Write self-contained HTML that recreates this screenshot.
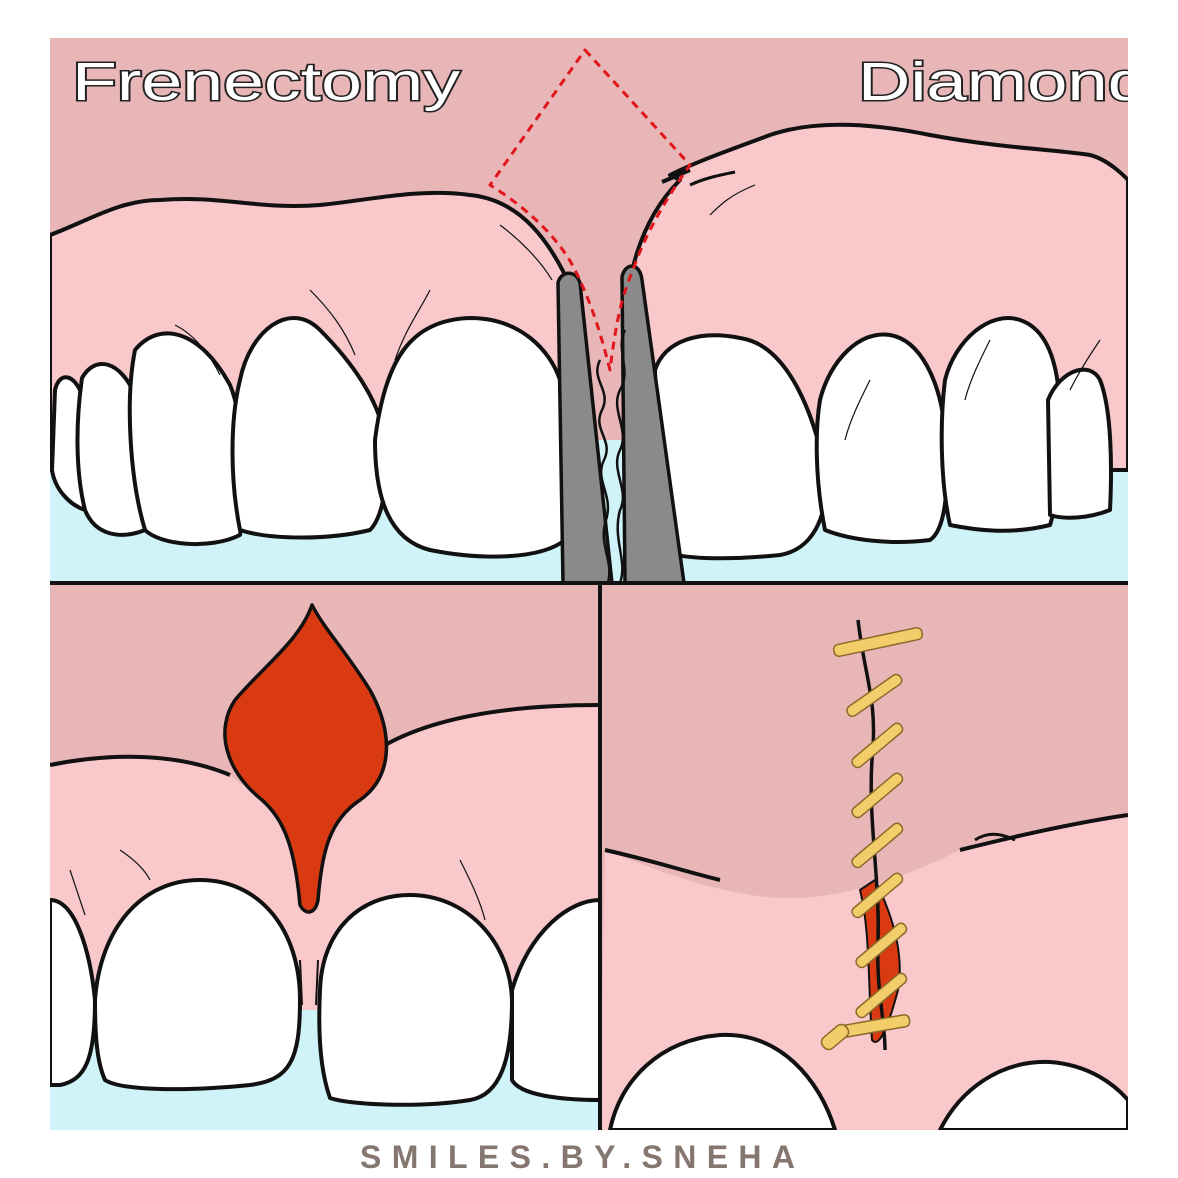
<!DOCTYPE html>
<html><head><meta charset="utf-8"><style>
html,body{margin:0;padding:0;background:#fff;}
svg{display:block}
</style></head><body>
<svg width="1178" height="1178" viewBox="0 0 1178 1178" xmlns="http://www.w3.org/2000/svg">
<defs>
<clipPath id="ct"><rect x="50" y="38" width="1078" height="545"/></clipPath>
<clipPath id="cl"><rect x="50" y="583" width="550" height="547"/></clipPath>
<clipPath id="cr"><rect x="600" y="583" width="528" height="547"/></clipPath>
</defs>
<rect width="1178" height="1178" fill="#fff"/>

<!-- TOP PANEL -->
<g clip-path="url(#ct)" stroke="#111" stroke-width="4" stroke-linejoin="round">
<rect x="50" y="38" width="1078" height="545" fill="#e9b6b8" stroke="none"/>
<rect x="50" y="440" width="1078" height="143" fill="#cff3f8" stroke="none"/>
<path d="M50,235 C90,220 120,200 160,200 C220,195 260,210 320,205 C370,200 420,188 470,195 C520,200 550,240 572,290 L575,470 L50,470 Z" fill="#f8c8cb"/>
<path d="M670,175 C700,160 730,150 770,135 C820,118 880,125 930,135 C1000,148 1060,150 1090,155 C1110,160 1128,180 1128,180 L1128,470 L640,470 L630,280 C640,230 660,200 680,180 Z" fill="#f8c8cb"/>
<path d="M662,182 L690,170" fill="none"/>
<path d="M690,185 C705,178 720,175 735,172" fill="none" stroke-width="3"/>
<!-- teeth -->
<g fill="#fff">
<path d="M55,390 C60,370 75,375 82,395 L85,510 C70,505 55,490 52,470 Z"/>
<path d="M82,378 C95,355 120,360 135,395 L145,530 C120,540 95,535 85,510 C75,470 76,420 82,378 Z"/>
<path d="M135,350 C160,320 200,330 230,385 C245,420 245,500 240,535 C210,550 160,545 145,530 C130,480 125,400 135,350 Z"/>
<path d="M240,380 C250,330 290,300 320,330 C350,360 380,400 385,440 C390,490 380,520 370,530 C330,540 270,540 240,530 C230,480 230,420 240,380 Z"/>
<path d="M375,440 C385,360 410,320 470,318 C520,318 550,350 560,380 L565,540 C540,560 480,560 430,550 C390,540 375,500 375,440 Z"/>
<path d="M655,370 C665,340 700,330 740,338 C790,345 815,420 825,470 C830,520 810,550 780,555 C730,560 680,560 660,550 Z"/>
<path d="M820,400 C830,360 860,330 890,335 C920,340 940,380 945,430 C950,490 945,530 930,540 C890,545 850,540 825,530 C815,480 815,430 820,400 Z"/>
<path d="M945,380 C955,340 990,310 1020,320 C1050,330 1060,370 1060,420 C1060,480 1055,510 1050,525 C1010,535 975,530 950,525 C940,480 940,420 945,380 Z"/>
<path d="M1048,400 C1060,370 1090,360 1100,380 C1112,410 1112,470 1110,510 C1090,518 1065,520 1050,515 Z"/>
</g>
<!-- hair lines -->
<g fill="none" stroke-width="1.2">
<path d="M175,325 C195,335 210,355 220,375"/><path d="M310,290 C330,310 345,330 355,355"/>
<path d="M430,290 C420,310 405,330 395,360"/><path d="M500,225 C520,240 540,260 552,280"/>
<path d="M990,340 C980,360 970,380 965,400"/><path d="M1100,340 C1090,355 1080,370 1070,390"/>
<path d="M870,380 C860,400 850,420 845,440"/><path d="M755,185 C730,195 720,205 710,215"/>
</g>
<!-- instrument -->
<path d="M558,283 C560,272 575,268 580,283 L612,583 L563,583 Z" fill="#8a8a8a" stroke-width="3.5"/>
<path d="M622,277 C625,262 640,262 642,280 L684,583 L625,583 Z" fill="#8a8a8a" stroke-width="3.5"/>
<path d="M600,360 C590,380 612,390 602,410 C592,430 614,440 604,460 C594,480 614,495 606,520 C598,545 614,560 608,583" fill="none" stroke-width="2.5"/>
<path d="M625,330 C615,350 632,370 620,390 C610,410 630,430 620,450 C610,470 630,490 620,510 C612,540 628,560 620,583" fill="none" stroke-width="2.5"/>
<!-- red dashed -->
<path d="M585,50 L690,165 C665,200 645,235 633,270 C620,300 615,330 610,370 C600,330 590,300 575,270 C560,240 530,210 490,185 Z" fill="none" stroke="#e0161a" stroke-width="3" stroke-dasharray="8,6"/>
</g>
<g font-family="Liberation Sans, sans-serif" font-size="54" fill="#fff" stroke="#222" stroke-width="3" paint-order="stroke" clip-path="url(#ct)">
<text x="72" y="100" textLength="388" lengthAdjust="spacingAndGlyphs">Frenectomy</text>
<text x="858" y="100" textLength="290" lengthAdjust="spacingAndGlyphs">Diamond</text>
</g>

<!-- BOTTOM LEFT -->
<g clip-path="url(#cl)" stroke="#111" stroke-width="4" stroke-linejoin="round">
<rect x="50" y="583" width="550" height="547" fill="#e9b6b8" stroke="none"/>
<rect x="50" y="1010" width="550" height="120" fill="#cff3f8" stroke="none"/>
<path d="M50,765 C100,755 170,750 230,775 L300,830 L385,745 C430,720 500,705 600,705 L600,1010 L50,1010 Z" fill="#f8c8cb" stroke="none"/>
<path d="M50,765 C100,755 170,750 230,775" fill="none"/>
<path d="M385,745 C430,720 500,705 600,705" fill="none"/>
<path d="M312,605 C300,640 265,665 235,700 C215,730 225,770 262,800 C285,820 295,850 300,905 C305,915 315,915 318,900 C322,850 330,820 360,800 C395,775 392,730 370,690 C345,650 325,630 312,605 Z" fill="#d93a12" stroke-width="3.5"/>
<g fill="#fff">
<path d="M50,900 C75,900 90,950 95,1000 C95,1060 85,1080 60,1085 L50,1085 Z"/>
<path d="M95,1000 C100,930 140,880 200,880 C260,880 300,930 300,1000 C300,1060 290,1080 250,1085 C180,1092 120,1090 105,1080 C96,1060 95,1030 95,1000 Z"/>
<path d="M320,990 C322,930 360,895 410,895 C465,895 510,940 512,1000 C512,1060 500,1095 470,1100 C420,1108 350,1105 330,1098 C320,1070 318,1030 320,990 Z"/>
<path d="M512,990 C530,930 570,900 600,900 L600,1100 C560,1100 520,1095 512,1080 Z"/>
</g>
<path d="M300,960 L302,1005 M318,960 L316,1005" fill="none" stroke-width="2"/>
<g fill="none" stroke-width="1.2"><path d="M120,850 C135,860 145,870 150,880"/><path d="M460,860 C470,880 480,900 485,920"/><path d="M70,870 C75,885 80,900 85,915"/></g>
</g>

<!-- BOTTOM RIGHT -->
<g clip-path="url(#cr)" stroke="#111" stroke-width="4" stroke-linejoin="round">
<rect x="600" y="583" width="528" height="547" fill="#e9b6b8" stroke="none"/>
<path d="M605,850 C680,880 740,900 800,898 C860,895 920,870 960,850 C1020,835 1080,822 1128,815 L1128,1130 L600,1130 Z" fill="#f8c8cb" stroke="none"/>
<path d="M605,850 C650,860 680,870 720,880" fill="none"/>
<path d="M960,850 C1020,835 1080,822 1128,815" fill="none"/>
<path d="M975,840 C990,830 1005,835 1015,840" fill="none" stroke-width="3"/>
<path d="M860,890 C870,930 868,980 872,1040 C880,1050 890,1020 898,990 C905,950 890,910 875,880 Z" fill="#d93a12" stroke-width="2"/>
<path d="M610,1130 C620,1080 660,1040 720,1035 C780,1032 820,1080 835,1130 Z" fill="#fff"/>
<path d="M940,1130 C960,1090 1000,1060 1050,1062 C1090,1065 1115,1085 1128,1100 L1128,1130 Z" fill="#fff"/>
<path d="M858,620 C865,680 878,700 872,760 C868,820 880,880 878,940 C876,990 885,1020 885,1050" fill="none" stroke-width="3.5"/>
<g stroke="#8a6a2a" stroke-width="1.5" fill="#f2cd6a">
<rect x="833" y="636" width="90" height="12" rx="5" transform="rotate(-12 878 642)"/>
<rect x="842" y="690" width="64" height="11" rx="5" transform="rotate(-35 874 695)"/>
<rect x="846" y="740" width="62" height="11" rx="5" transform="rotate(-40 877 745)"/>
<rect x="846" y="790" width="62" height="11" rx="5" transform="rotate(-40 877 795)"/>
<rect x="846" y="840" width="62" height="11" rx="5" transform="rotate(-40 877 845)"/>
<rect x="846" y="890" width="62" height="11" rx="5" transform="rotate(-40 877 895)"/>
<rect x="850" y="940" width="62" height="11" rx="5" transform="rotate(-40 881 945)"/>
<rect x="850" y="990" width="62" height="11" rx="5" transform="rotate(-40 881 995)"/>
<rect x="840" y="1020" width="70" height="12" rx="5" transform="rotate(-10 875 1026)"/>
<rect x="820" y="1030" width="30" height="14" rx="6" transform="rotate(-40 835 1037)"/>
</g>
</g>

<!-- dividers -->
<g stroke="#111" stroke-width="4">
<line x1="50" y1="583" x2="1128" y2="583"/>
<line x1="600" y1="583" x2="600" y2="1130"/>
</g>

<text x="360" y="1168" textLength="435" lengthAdjust="spacing" font-family="Liberation Sans, sans-serif" font-size="32" font-weight="bold" fill="#857670">SMILES.BY.SNEHA</text>
</svg>
</body></html>
